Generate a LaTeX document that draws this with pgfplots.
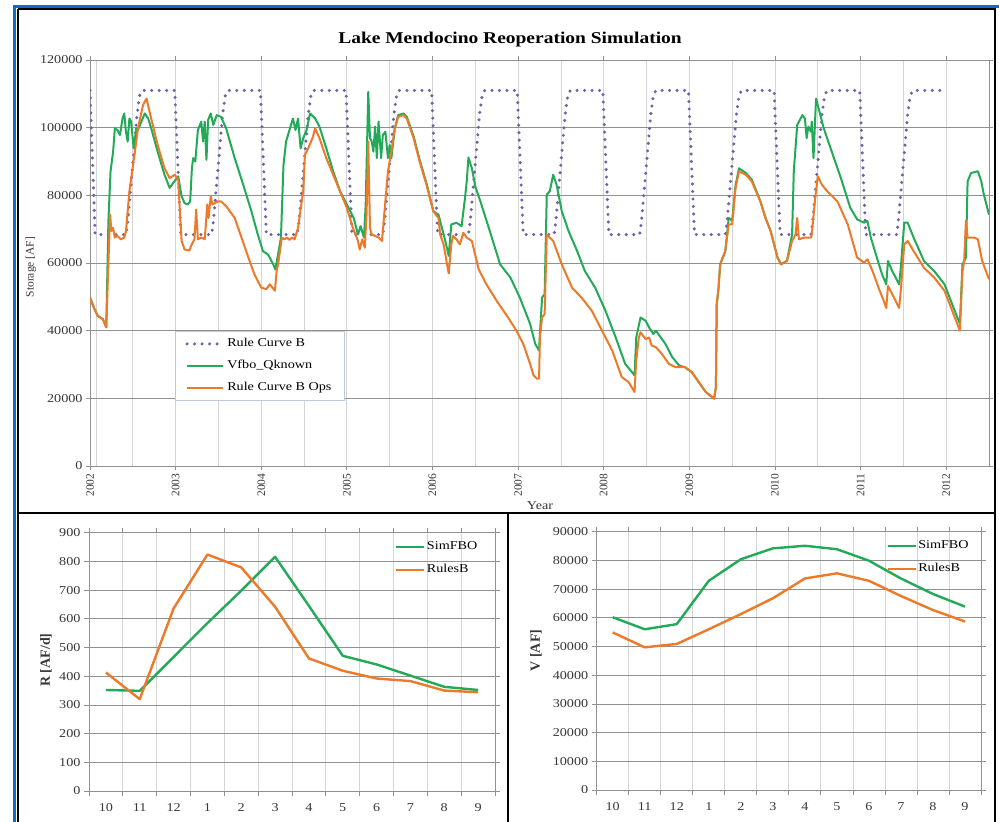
\documentclass[border=0pt]{standalone}
\usepackage{fontspec}
\setmainfont{Liberation Serif}[FakeStretch=1.18]
\newfontfamily\rotfont{Liberation Serif}
\usepackage{pgfplots}
\usepackage{pgfplotstable}
\pgfplotsset{compat=1.18}

\definecolor{rcbcol}{RGB}{112,96,172}
\definecolor{greencol}{RGB}{34,170,88}
\definecolor{orangecol}{RGB}{236,122,40}
\definecolor{frameblue}{RGB}{10,110,200}
\definecolor{gridh}{RGB}{145,145,145}
\definecolor{gridv}{RGB}{212,212,212}
\definecolor{labcol}{RGB}{55,55,55}
\definecolor{legborder}{RGB}{190,200,215}

\pgfplotstableread{
x y
2002.00 111000
2002.06 68400
2002.42 68400
2002.44 72000
2002.55 104000
2002.58 109500
2002.61 111000
2002.99 111000
2003.06 68400
2003.42 68400
2003.44 72000
2003.55 104000
2003.58 109500
2003.61 111000
2003.99 111000
2004.06 68400
2004.42 68400
2004.44 72000
2004.55 104000
2004.58 109500
2004.61 111000
2004.99 111000
2005.06 68400
2005.42 68400
2005.44 72000
2005.55 104000
2005.58 109500
2005.61 111000
2005.99 111000
2006.06 68400
2006.42 68400
2006.44 72000
2006.55 104000
2006.58 109500
2006.61 111000
2006.99 111000
2007.06 68400
2007.42 68400
2007.44 72000
2007.55 104000
2007.58 109500
2007.61 111000
2007.99 111000
2008.06 68400
2008.42 68400
2008.44 72000
2008.55 104000
2008.58 109500
2008.61 111000
2008.99 111000
2009.06 68400
2009.42 68400
2009.44 72000
2009.55 104000
2009.58 109500
2009.61 111000
2009.99 111000
2010.06 68400
2010.42 68400
2010.44 72000
2010.55 104000
2010.58 109500
2010.61 111000
2010.99 111000
2011.06 68400
2011.42 68400
2011.44 72000
2011.55 104000
2011.58 109500
2011.61 111000
2011.93 111000
}\rulecurve

\pgfplotstableread{
x y
2002.000 49800
2002.050 46500
2002.090 44400
2002.150 43400
2002.190 41000
2002.215 72400
2002.240 87100
2002.270 92900
2002.290 99800
2002.320 99300
2002.350 97800
2002.380 102700
2002.400 104200
2002.420 98800
2002.440 95900
2002.460 102700
2002.480 101800
2002.510 93900
2002.540 99800
2002.560 99300
2002.600 101800
2002.640 104200
2002.680 102700
2002.715 99800
2002.790 92900
2002.870 86100
2002.930 82200
2002.970 83600
2003.030 85600
2003.070 79700
2003.105 77700
2003.140 77300
2003.170 78200
2003.190 88000
2003.205 91000
2003.230 90000
2003.260 99300
2003.300 101800
2003.320 95900
2003.340 101800
2003.360 90500
2003.380 102300
2003.410 104200
2003.440 100800
2003.480 103700
2003.530 103200
2003.590 99800
2003.690 91000
2003.790 83100
2003.885 75300
2003.960 68400
2004.020 63500
2004.080 62500
2004.140 59600
2004.165 58100
2004.190 61600
2004.230 67500
2004.260 89000
2004.290 95900
2004.330 99300
2004.370 102700
2004.400 99300
2004.430 102700
2004.460 93900
2004.490 96900
2004.530 99300
2004.570 104200
2004.630 102700
2004.680 100300
2004.760 93900
2004.840 87100
2004.920 81200
2005.000 77300
2005.080 73300
2005.130 68400
2005.160 70900
2005.200 67500
2005.220 77300
2005.250 110600
2005.270 96900
2005.290 95900
2005.310 92900
2005.330 100300
2005.350 91000
2005.370 101800
2005.400 91000
2005.420 97800
2005.450 98800
2005.480 91000
2005.500 94900
2005.520 91000
2005.560 99800
2005.600 103700
2005.660 104200
2005.700 103200
2005.780 97400
2005.850 90500
2005.930 83600
2006.010 75300
2006.070 74300
2006.110 70400
2006.150 66500
2006.190 62100
2006.220 71400
2006.280 71900
2006.340 70900
2006.380 79200
2006.400 84100
2006.420 91200
2006.460 88000
2006.500 82600
2006.560 78200
2006.670 69400
2006.790 59600
2006.910 55700
2007.020 49800
2007.140 42000
2007.200 36100
2007.245 34100
2007.255 39000
2007.280 49800
2007.310 50800
2007.335 80200
2007.370 81200
2007.410 86100
2007.450 83100
2007.510 75300
2007.590 69400
2007.690 63500
2007.780 57600
2007.900 52700
2008.020 45900
2008.140 38000
2008.250 30200
2008.360 26800
2008.380 38000
2008.430 43900
2008.490 42900
2008.540 40500
2008.580 39000
2008.610 40000
2008.720 36100
2008.800 32200
2008.880 29700
2008.950 29200
2009.030 27700
2009.110 24800
2009.190 21900
2009.290 19900
2009.310 23300
2009.320 47800
2009.340 52300
2009.360 59600
2009.420 63500
2009.460 73300
2009.500 72500
2009.540 83000
2009.580 88000
2009.660 86600
2009.730 84600
2009.830 78200
2009.890 73300
2009.950 69400
2010.030 61600
2010.070 59600
2010.140 60600
2010.200 68400
2010.220 87100
2010.260 100800
2010.320 103700
2010.350 102700
2010.370 96900
2010.390 100300
2010.420 98800
2010.430 101800
2010.450 91000
2010.460 96900
2010.480 108600
2010.510 105700
2010.570 99800
2010.650 93900
2010.770 85100
2010.880 76300
2010.960 72900
2011.040 71900
2011.080 72400
2011.120 67500
2011.190 61600
2011.250 56700
2011.300 53700
2011.320 60600
2011.370 57600
2011.450 53700
2011.470 58600
2011.510 71900
2011.550 71900
2011.620 67500
2011.740 60600
2011.860 57600
2011.980 53700
2012.070 47800
2012.160 42000
2012.190 59600
2012.230 61600
2012.250 84100
2012.290 86600
2012.370 87100
2012.410 84100
2012.440 80200
2012.500 74300
}\vfbo

\pgfplotstableread{
x y
2002.000 49800
2002.050 46500
2002.090 44400
2002.150 43400
2002.190 41000
2002.215 60000
2002.235 74300
2002.250 69500
2002.270 70400
2002.290 67500
2002.320 68000
2002.360 67000
2002.400 67500
2002.420 69400
2002.460 81200
2002.520 92000
2002.560 99800
2002.620 106700
2002.660 108600
2002.715 102700
2002.790 94900
2002.870 88000
2002.930 85100
2002.990 86100
2003.030 84600
2003.050 75300
2003.070 66500
2003.105 64000
2003.160 63700
2003.180 65000
2003.220 67000
2003.240 75800
2003.260 67000
2003.300 67500
2003.340 67000
2003.370 77300
2003.385 73300
2003.410 79700
2003.430 77300
2003.495 78200
2003.530 78200
2003.590 76800
2003.690 73300
2003.770 67500
2003.850 61600
2003.920 56700
2004.000 52700
2004.060 52300
2004.100 53700
2004.160 51800
2004.180 57600
2004.200 60100
2004.240 67500
2004.270 67000
2004.300 67500
2004.330 66800
2004.360 67500
2004.390 67000
2004.430 70400
2004.490 81200
2004.510 92000
2004.550 94000
2004.600 97000
2004.630 99800
2004.680 96900
2004.760 91000
2004.840 86100
2004.920 81200
2005.000 76300
2005.070 70400
2005.130 66500
2005.150 64000
2005.180 67000
2005.210 64500
2005.230 74300
2005.250 95900
2005.270 70400
2005.290 68400
2005.330 68000
2005.370 67500
2005.410 66500
2005.440 75300
2005.480 87100
2005.520 92900
2005.560 99800
2005.600 103200
2005.660 103700
2005.700 102700
2005.780 96900
2005.850 90000
2005.930 83100
2006.010 75300
2006.070 73300
2006.090 68400
2006.130 65500
2006.170 59600
2006.190 56900
2006.220 65500
2006.240 68000
2006.280 67000
2006.320 65500
2006.360 68900
2006.400 67500
2006.460 66500
2006.540 58100
2006.630 53700
2006.750 48800
2006.870 44400
2006.980 40000
2007.060 36100
2007.140 30200
2007.180 26800
2007.220 25800
2007.245 25800
2007.255 38000
2007.280 43900
2007.310 44900
2007.335 68400
2007.370 67500
2007.410 66500
2007.510 59600
2007.630 52700
2007.740 49800
2007.860 45900
2007.980 40000
2008.100 34100
2008.210 26300
2008.290 24800
2008.360 21900
2008.380 31200
2008.410 38000
2008.430 39500
2008.490 37500
2008.530 38000
2008.560 35600
2008.610 35100
2008.680 33100
2008.760 30200
2008.840 29200
2008.950 29200
2009.030 27700
2009.110 24800
2009.190 21900
2009.290 19900
2009.310 23300
2009.320 47800
2009.340 52300
2009.360 59600
2009.420 63500
2009.460 71400
2009.500 71400
2009.540 82200
2009.580 87100
2009.660 86100
2009.730 84100
2009.830 78200
2009.890 73300
2009.950 69400
2010.030 61600
2010.070 59600
2010.140 60600
2010.200 66500
2010.240 68400
2010.260 73300
2010.280 67000
2010.340 67500
2010.420 67500
2010.430 68400
2010.470 79200
2010.500 85600
2010.550 83100
2010.610 81200
2010.730 78200
2010.850 71400
2010.960 61600
2011.040 60100
2011.080 61100
2011.140 57600
2011.210 52700
2011.270 48800
2011.300 46700
2011.320 53200
2011.370 50800
2011.450 46700
2011.470 51800
2011.510 65500
2011.550 66500
2011.620 63500
2011.740 58600
2011.860 55700
2011.980 51800
2012.070 45900
2012.160 40000
2012.190 57600
2012.210 60600
2012.230 72400
2012.250 67500
2012.330 67500
2012.370 67000
2012.420 60600
2012.500 55200
}\ops

\pgfplotstableread{
x sim rules
0 352 413
1 349 320
2 467 636
3 585 824
4 698 779
5 816 642
6 645 462
7 471 419
8 441 392
9 402 383
10 363 350
11 352 344
}\rel

\pgfplotstableread{
x sim rules
0 60200 54900
1 56000 49700
2 57800 50900
3 72900 56000
4 80400 61300
5 84200 66800
6 85100 73700
7 83900 75500
8 79900 72900
9 73700 67600
10 68300 62700
11 63900 58700
}\vol

\pgfplotsset{
  bottomstyle/.style={
    scale only axis, width=406pt, height=258.3pt,
    xmin=-0.5, xmax=11.5, ymin=0,
    xtick={-0.5,0.5,1.5,2.5,3.5,4.5,5.5,6.5,7.5,8.5,9.5,10.5,11.5},
    x tick label as interval,
    xticklabels={10,11,12,1,2,3,4,5,6,7,8,9},
    xmajorgrids, ymajorgrids,
    major x grid style={gridv, line width=0.8pt},
    major y grid style={gridh, line width=0.8pt},
    axis line style={gridh, line width=0.8pt},
    tick align=outside, major tick length=5pt,
    tick style={gridh, line width=0.8pt},
    ticklabel style={font=\fontsize{12}{14}\selectfont, text=labcol},
    xticklabel style={yshift=-4pt},
    /pgf/number format/fixed,
    /pgf/number format/assume math mode=true,
    /pgf/number format/1000 sep={},
    scaled y ticks=false,
    legend cell align=left,
    legend image code/.code={\draw[##1] (0pt,0pt) -- (28pt,0pt);},
    legend style={anchor=north east, draw=none, fill=none,
      font=\fontsize{12}{14}\selectfont, row sep=8pt,
      nodes={inner sep=1.5pt, text height=9pt, text depth=3pt}},
  }
}

\begin{document}
\begin{tikzpicture}[x=1pt,y=1pt]
\useasboundingbox (0,0) rectangle (999,822);
\fill[white] (0,0) rectangle (999,822);

% ---------- top chart ----------
\begin{axis}[
  at={(90pt,356pt)}, anchor=south west,
  scale only axis, width=899pt, height=406pt,
  xmin=2002, xmax=2012.5, ymin=0, ymax=120000,
  xtick={2002,2003,2004,2005,2006,2007,2008,2009,2010,2011,2012},
  ytick={0,20000,40000,60000,80000,100000,120000},
  minor xtick={2002.07,2002.5,2003.5,2004.5,2005.5,2006.5,2007.5,2008.5,2009.5,2010.5,2011.5},
  xmajorgrids, xminorgrids, ymajorgrids,
  major x grid style={gridv, line width=0.8pt},
  minor x grid style={gridv, line width=0.8pt},
  major y grid style={gridh, line width=0.9pt},
  axis line style={gridh, line width=0.8pt},
  tick align=outside, major tick length=4pt, minor tick length=0pt,
  tick style={gridh, line width=0.8pt},
  xticklabel style={rotate=90, anchor=east, font=\rotfont\fontsize{11.5}{13}\selectfont, text=labcol},
  yticklabel style={font=\fontsize{12}{14}\selectfont, text=labcol},
  /pgf/number format/fixed,
  /pgf/number format/assume math mode=true,
  /pgf/number format/1000 sep={},
  scaled ticks=false,
  legend cell align=left,
  legend image code/.code={\draw[#1] (0pt,0pt) -- (36pt,0pt);},
  legend style={at={(0.0945,0.3325)}, anchor=north west, draw=legborder,
    fill=white, line width=0.8pt, font=\fontsize{12}{14}\selectfont,
    inner xsep=10pt, inner ysep=4pt, row sep=5pt,
    nodes={inner sep=2.5pt, text height=9pt, text depth=3pt}},
]
\addplot[rcbcol, line width=3.4pt, line cap=round, dash pattern=on 0pt off 7.5pt] table[x=x,y=y] {\rulecurve};
\addlegendentry{Rule Curve B}
\addplot[greencol, line width=2pt, line join=round] table[x=x,y=y] {\vfbo};
\addlegendentry{Vfbo\_Qknown}
\addplot[orangecol, line width=2pt, line join=round] table[x=x,y=y] {\ops};
\addlegendentry{Rule Curve B Ops}
\end{axis}

% ---------- bottom left ----------
\begin{axis}[bottomstyle,
  at={(89pt,31pt)}, anchor=south west,
  ymax=900, ytick={0,100,200,300,400,500,600,700,800,900},
  legend style={at={(0.968,0.983)}},
]
\addplot[greencol, line width=2.4pt, line join=round] table[x=x,y=sim] {\rel};
\addlegendentry{SimFBO}
\addplot[orangecol, line width=2.4pt, line join=round] table[x=x,y=rules] {\rel};
\addlegendentry{RulesB}
\end{axis}

% ---------- bottom right ----------
\begin{axis}[bottomstyle,
  at={(596.7pt,32pt)}, anchor=south west, width=384.3pt,
  ymax=90000, ytick={0,10000,20000,30000,40000,50000,60000,70000,80000,90000},
  legend style={at={(0.98,0.983)}},
]
\addplot[greencol, line width=2.4pt, line join=round] table[x=x,y=sim] {\vol};
\addlegendentry{SimFBO}
\addplot[orangecol, line width=2.4pt, line join=round] table[x=x,y=rules] {\vol};
\addlegendentry{RulesB}
\end{axis}

% ---------- texts ----------
\node[anchor=base, font=\fontsize{16.5}{19}\selectfont\bfseries] at (510,778) {Lake Mendocino Reoperation Simulation};
\node[rotate=90, font=\rotfont\fontsize{11.5}{13}\selectfont, text=labcol] at (31,555) {Storage [AF]};
\node[anchor=base, font=\fontsize{12}{14}\selectfont, text=labcol] at (540,312) {Year};
\node[rotate=90, font=\rotfont\bfseries\fontsize{14}{16}\selectfont, text=labcol] at (46,162) {R [AF/d]};
\node[rotate=90, font=\rotfont\bfseries\fontsize{14}{16}\selectfont, text=labcol] at (536,171.5) {V [AF]};

% ---------- frames ----------
\draw[frameblue, line width=3pt] (14.5,0) -- (14.5,815.5) -- (999,815.5);
\draw[black, line width=2pt] (18,812.5) -- (995,812.5) -- (995,0);
\draw[black, line width=2pt] (18,812.5) -- (18,0);
\draw[black, line width=2.5pt] (18,309) -- (995,309);
\draw[black, line width=2pt] (508,309) -- (508,0);
\end{tikzpicture}
\end{document}
